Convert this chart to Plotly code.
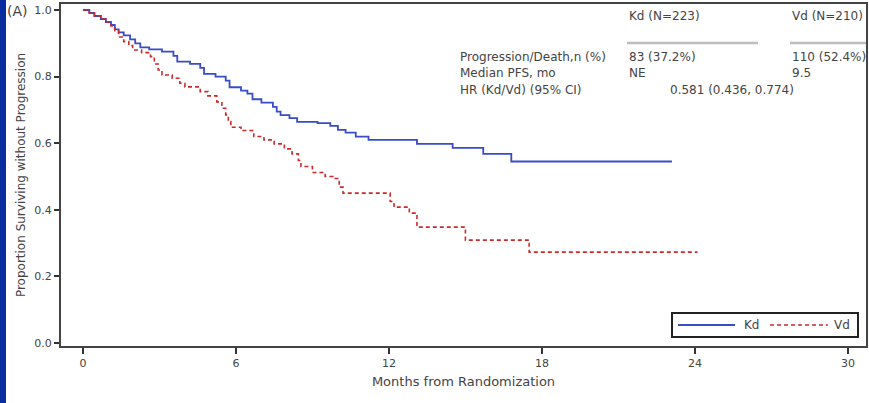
import plotly.graph_objects as go

# ---- data ----
kd_months = [0, 0.25, 0.45, 0.7, 0.9, 1.1, 1.25, 1.4, 1.6, 1.85, 2.05, 2.25, 2.6, 3.1, 3.55, 3.7,
             4.2, 4.6, 4.75, 5.2, 5.6, 5.75, 6.2, 6.45, 6.65, 7.0, 7.45, 7.6, 7.75, 8.1, 8.4,
             9.2, 9.7, 10.0, 10.3, 10.7, 11.2, 13.1, 14.5, 15.7, 16.8, 23.1]
kd_surv = [1.0, 0.991, 0.982, 0.973, 0.964, 0.955, 0.942, 0.933, 0.924, 0.912, 0.900, 0.888, 0.882,
           0.875, 0.862, 0.845, 0.838, 0.826, 0.808, 0.800, 0.788, 0.768, 0.758, 0.749, 0.732,
           0.722, 0.709, 0.695, 0.684, 0.675, 0.664, 0.660, 0.652, 0.640, 0.632, 0.620, 0.610,
           0.598, 0.586, 0.568, 0.545, 0.545]

vd_months = [0, 0.25, 0.45, 0.7, 0.9, 1.1, 1.25, 1.4, 1.6, 1.8, 1.95, 2.3, 2.65, 2.8, 2.95, 3.1,
             3.5, 3.8, 4.0, 4.6, 4.9, 5.25, 5.45, 5.6, 5.7, 5.8, 6.2, 6.7, 7.1, 7.5, 7.9, 8.2,
             8.45, 8.55, 9.0, 9.5, 9.8, 10.05, 10.2, 12.05, 12.2, 12.8, 13.1, 15.0, 17.5, 24.1]
vd_surv = [1.0, 0.991, 0.982, 0.973, 0.964, 0.952, 0.938, 0.919, 0.905, 0.893, 0.880, 0.872, 0.860,
           0.838, 0.820, 0.805, 0.795, 0.780, 0.769, 0.755, 0.742, 0.724, 0.705, 0.685, 0.665,
           0.648, 0.638, 0.620, 0.610, 0.598, 0.583, 0.568, 0.548, 0.530, 0.512, 0.500, 0.494,
           0.468, 0.450, 0.425, 0.408, 0.390, 0.348, 0.309, 0.273, 0.273]

x_ticks = [0, 6, 12, 18, 24, 30]
y_ticks = [0.0, 0.2, 0.4, 0.6, 0.8, 1.0]

series_names = ["Kd", "Vd"]
table_header = ["Kd (N=223)", "Vd (N=210)"]
row_labels = ["Progression/Death,n (%)", "Median PFS, mo", "HR (Kd/Vd) (95% CI)"]
kd_col = ["83 (37.2%)", "NE"]
vd_col = ["110 (52.4%)", "9.5"]
hr_text = "0.581 (0.436, 0.774)"

FONT = "DejaVu Sans, Liberation Sans, Arial, sans-serif"
TXT = "#444444"
BLUE = "#3a4cc8"
RED = "#cc2b2b"
RED_DASH = "4px,3px"

fig = go.Figure()
fig.add_trace(go.Scatter(x=kd_months, y=kd_surv, mode="lines", name=series_names[0],
                         line=dict(color=BLUE, width=1.8, shape="hv")))
fig.add_trace(go.Scatter(x=vd_months, y=vd_surv, mode="lines", name=series_names[1],
                         line=dict(color=RED, width=1.6, shape="hv", dash=RED_DASH)))

W, H = 869, 403
ml, mr, mt, mb = 61, 3, 4, 57
pw, ph = W - ml - mr, H - mt - mb


def px(x):
    return (x - ml) / pw


def py(y):
    return (H - mb - y) / ph


def txt(text, x, y, size=12, anchor="left"):
    return dict(text=text, x=px(x), y=py(y), xref="paper", yref="paper", xanchor=anchor,
                yanchor="middle", showarrow=False, font=dict(size=size, color=TXT, family=FONT))


ann = [txt("(A)", 5, 11, size=14)]
col_x = [627, 790]
for t, cx in zip(table_header, col_x):
    ann.append(txt(t, cx, 16))
row_y = [57, 73, 90]
for lab, ry in zip(row_labels, row_y):
    ann.append(txt(lab, 458, ry))
for i in range(2):
    ann.append(txt(kd_col[i], col_x[0], row_y[i]))
    ann.append(txt(vd_col[i], col_x[1], row_y[i]))
ann.append(txt(hr_text, 668, row_y[2]))
# legend texts
ann.append(txt(series_names[0], 742, 325, size=12))
ann.append(txt(series_names[1], 832, 325, size=12))

shapes = [
    dict(type="rect", xref="paper", yref="paper", x0=px(0), x1=px(6), y0=py(H + 5), y1=py(-5),
         fillcolor="#0a2d9e", line=dict(width=0), layer="above"),
    dict(type="line", xref="paper", yref="paper", x0=px(627), x1=px(758), y0=py(43), y1=py(43),
         line=dict(color="#bdbdbd", width=2.5)),
    dict(type="line", xref="paper", yref="paper", x0=px(790), x1=px(866), y0=py(43), y1=py(43),
         line=dict(color="#bdbdbd", width=2.5)),
    # legend box and samples
    dict(type="rect", xref="paper", yref="paper", x0=px(672), x1=px(858), y0=py(337), y1=py(313),
         fillcolor="white", line=dict(color="#222", width=2), layer="above"),
    dict(type="line", xref="paper", yref="paper", x0=px(678), x1=px(735), y0=py(325), y1=py(325),
         line=dict(color=BLUE, width=1.8), layer="above"),
    dict(type="line", xref="paper", yref="paper", x0=px(770), x1=px(828), y0=py(325), y1=py(325),
         line=dict(color=RED, width=1.6, dash=RED_DASH), layer="above"),
]

fig.update_layout(
    width=W, height=H,
    margin=dict(l=ml, r=mr, t=mt, b=mb, autoexpand=False),
    paper_bgcolor="white", plot_bgcolor="white",
    font=dict(family=FONT, size=11, color=TXT),
    showlegend=False,
    annotations=ann,
    shapes=shapes,
    xaxis=dict(range=[-0.86, 30.71], tickvals=x_ticks, ticktext=[str(v) for v in x_ticks],
               automargin=False,
               showgrid=False, zeroline=False, showline=True, linecolor="#444", linewidth=2,
               mirror=True, ticks="outside", ticklen=6, tickwidth=1.5, tickcolor="#333",
               tickfont=dict(size=11, color=TXT),
               title=dict(text="Months from Randomization", font=dict(size=13, color=TXT),
                          standoff=8)),
    yaxis=dict(range=[-0.009, 1.018], tickvals=y_ticks, ticktext=[f"{v:.1f}" for v in y_ticks],
               automargin=False,
               showgrid=False, zeroline=False, showline=True, linecolor="#444", linewidth=2,
               mirror=True, ticks="outside", ticklen=5, tickwidth=1.5, tickcolor="#333",
               tickfont=dict(size=11, color=TXT),
               title=dict(text="Proportion Surviving without Progression",
                          font=dict(size=12, color=TXT), standoff=6)),
)

fig.write_html("out.html", config={"displayModeBar": False},
               post_script="document.body.style.margin='0';")
